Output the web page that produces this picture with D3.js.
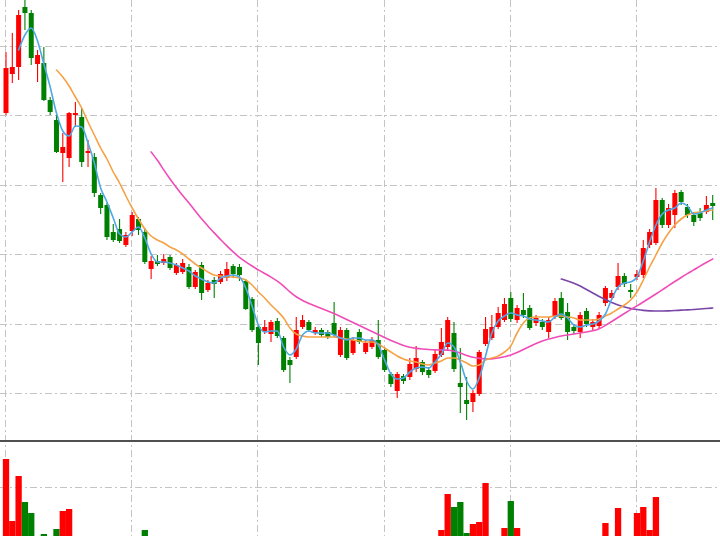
<!DOCTYPE html>
<html><head><meta charset="utf-8">
<script src="https://cdn.jsdelivr.net/npm/d3@7/dist/d3.min.js"></script>
<style>html,body{margin:0;padding:0;background:#fff;}svg{display:block;}</style>
</head><body>
<svg id="chart" width="720" height="536"></svg>
<script>
// ---- data ----
const opens = [17.74,18.52,18.66,19.86,19.74,18.72,18.74,18.00,17.60,16.94,
16.84,17.70,17.66,16.94,16.86,16.10,15.90,15.36,15.42,15.10,
15.38,15.62,15.36,14.62,14.78,14.74,14.86,14.54,14.56,14.66,
14.26,14.70,14.20,14.40,14.36,14.44,14.68,14.66,14.38,14.02,
13.46,13.38,13.32,13.58,13.24,12.80,12.86,13.46,13.56,13.34,
13.40,13.36,13.54,12.90,13.40,12.94,13.36,12.96,13.06,13.20,
13.00,12.52,12.18,12.48,12.46,12.62,12.76,12.60,12.58,12.90,
13.06,13.34,12.34,12.00,11.96,12.12,13.12,13.24,13.46,13.60,
14.04,13.60,13.80,13.84,13.54,13.56,13.36,13.66,14.04,13.76,
13.46,13.36,13.78,13.46,13.48,13.94,14.04,14.26,14.48,14.20,
14.46,14.50,15.10,15.14,16.00,15.50,15.70,16.16,15.86,15.70,
15.74,15.76,15.94];
const closes = [18.64,18.66,19.70,19.74,18.84,18.90,18.00,17.76,16.96,17.06,
17.74,17.74,16.76,16.98,16.14,15.84,15.26,15.20,15.18,15.30,
15.70,15.40,14.76,14.78,14.72,14.82,14.64,14.70,14.74,14.26,
14.56,14.14,14.34,14.32,14.52,14.62,14.52,14.50,13.82,13.40,
13.14,13.46,13.56,13.28,12.60,12.70,13.40,13.60,13.40,13.40,
13.30,13.26,13.30,13.40,12.84,13.20,13.16,13.14,13.20,12.86,
12.60,12.32,12.52,12.38,12.72,12.84,12.56,12.50,12.92,13.16,
13.60,12.62,12.26,11.92,12.14,12.96,13.42,13.46,13.74,13.92,
13.62,13.84,13.70,13.44,13.64,13.46,13.60,13.98,13.64,13.36,
13.38,13.70,13.52,13.56,13.70,14.24,14.14,14.48,14.32,14.16,
14.52,15.04,15.36,16.00,15.50,15.84,16.14,15.96,15.70,15.56,
15.64,15.90,15.88];
const highs = [18.96,19.34,19.80,20.08,19.80,19.00,19.06,18.06,17.70,17.34,
17.76,17.96,17.84,17.20,16.94,16.14,15.94,15.52,15.62,15.36,
15.76,15.66,15.44,14.88,14.90,14.92,14.90,14.74,14.82,14.72,
14.60,14.76,14.40,14.46,14.58,14.76,14.72,14.72,14.42,14.06,
13.50,13.60,13.60,13.64,13.28,12.86,13.66,13.70,13.60,13.46,
13.44,13.40,13.96,13.46,13.44,13.26,13.42,13.20,13.26,13.60,
13.06,12.56,12.56,12.52,12.84,13.08,12.80,12.66,13.00,13.44,
13.66,13.56,13.04,12.46,12.20,13.00,13.66,13.70,13.86,14.04,
14.16,13.90,14.14,13.90,13.70,13.62,13.66,14.04,14.16,13.94,
13.52,13.76,13.84,13.62,13.76,14.28,14.20,14.74,14.54,14.32,
14.60,15.20,15.42,16.24,16.04,15.92,16.20,16.20,15.92,15.76,
15.84,16.08,16.10];
const lows = [17.70,18.34,18.40,19.40,18.70,18.36,17.98,17.70,16.94,16.36,
16.66,17.46,16.66,16.66,16.06,15.72,15.20,15.16,15.14,15.06,
15.28,15.30,14.72,14.42,14.68,14.70,14.60,14.50,14.52,14.22,
14.22,14.00,14.16,14.04,14.32,14.38,14.44,14.38,13.80,13.36,
12.70,13.32,13.16,13.24,12.56,12.34,12.82,13.42,13.36,13.30,
13.26,13.22,13.26,12.86,12.80,12.90,13.12,12.92,13.02,12.82,
12.56,12.26,12.04,12.32,12.40,12.56,12.50,12.44,12.54,12.86,
13.00,12.56,11.74,11.60,11.76,12.08,13.08,13.20,13.42,13.56,
13.56,13.54,13.64,13.40,13.48,13.40,13.24,13.62,13.60,13.20,
13.32,13.24,13.46,13.40,13.42,13.88,14.00,14.20,14.26,14.04,
14.40,14.44,15.04,15.10,15.44,15.44,15.44,15.90,15.64,15.48,
15.58,15.72,15.60];
const volumes = [356000,232000,322000,270000,248000,150000,206000,170000,216000,252000,
256000,120000,180000,110000,190000,150000,170000,110000,120000,100000,
140000,120000,214000,130000,80000,70000,90000,80000,90000,120000,
100000,130000,80000,90000,90000,110000,80000,80000,150000,170000,
160000,90000,110000,100000,180000,120000,160000,100000,80000,70000,
70000,60000,110000,120000,130000,100000,90000,80000,70000,120000,
110000,120000,140000,90000,120000,140000,100000,90000,170000,214000,
286000,260000,270000,208000,226000,230000,308000,190000,180000,218000,
272000,218000,150000,160000,100000,90000,120000,160000,170000,140000,
90000,130000,120000,80000,110000,228000,160000,258000,190000,120000,
248000,260000,214000,280000,190000,170000,180000,150000,120000,110000,
90000,130000,100000];
const ma5 = [null,null,19.00,19.30,19.44,19.18,18.72,18.26,17.74,17.38,
17.28,17.48,17.46,17.14,16.74,16.24,15.96,15.64,15.32,15.26,
15.36,15.46,15.24,14.92,14.76,14.76,14.74,14.70,14.64,14.58,
14.48,14.42,14.36,14.34,14.44,14.48,14.50,14.46,14.24,13.88,
13.50,13.36,13.38,13.38,13.06,12.90,13.02,13.30,13.38,13.34,
13.34,13.34,13.30,13.24,13.20,13.24,13.24,13.20,13.20,13.10,
12.80,12.52,12.42,12.44,12.56,12.64,12.66,12.64,12.76,12.92,
13.14,13.06,12.76,12.38,12.22,12.44,12.88,13.34,13.58,13.68,
13.74,13.70,13.68,13.62,13.60,13.58,13.56,13.66,13.72,13.64,
13.50,13.46,13.50,13.52,13.58,13.72,14.02,14.26,14.34,14.36,
14.46,14.78,15.16,15.50,15.72,15.80,15.84,15.94,15.88,15.72,
15.74,15.80,15.84];
const ma10 = [null,null,null,null,null,null,null,null,18.60,18.46,
18.28,18.06,17.84,17.56,17.30,17.04,16.82,16.56,16.34,16.08,
15.84,15.62,15.42,15.28,15.20,15.14,15.06,15.00,14.92,14.82,
14.72,14.64,14.56,14.50,14.48,14.46,14.46,14.44,14.40,14.30,
14.16,14.04,13.90,13.78,13.64,13.44,13.32,13.28,13.26,13.26,
13.26,13.26,13.26,13.24,13.22,13.20,13.18,13.16,13.16,13.12,
13.04,12.96,12.88,12.82,12.78,12.76,12.72,12.70,12.74,12.78,
12.84,12.84,12.80,12.74,12.68,12.70,12.80,12.84,12.88,12.96,
13.08,13.34,13.54,13.64,13.66,13.66,13.66,13.68,13.68,13.66,
13.64,13.60,13.60,13.60,13.62,13.68,13.74,13.82,13.90,14.00,
14.16,14.40,14.66,14.90,15.14,15.34,15.50,15.62,15.70,15.74,
15.76,15.78,15.80];
const ma20 = Array(23).fill(null).concat([16.96,16.80,16.60,16.42,16.25,16.09,15.94,
15.78,15.62,15.48,15.34,15.21,15.08,14.96,14.85,14.76,14.68,
14.60,14.53,14.46,14.38,14.28,14.16,14.06,13.99,13.93,13.88,
13.83,13.78,13.73,13.67,13.61,13.55,13.49,13.43,13.37,13.31,
13.25,13.19,13.14,13.09,13.05,13.03,13.02,13.01,13.00,13.00,
13.00,12.98,12.94,12.89,12.85,12.83,12.82,12.82,12.84,12.86,
12.90,12.95,13.01,13.07,13.13,13.18,13.22,13.25,13.28,13.30,
13.32,13.34,13.36,13.38,13.42,13.49,13.57,13.65,13.73,13.81,
13.88,13.96,14.04,14.12,14.20,14.29,14.37,14.45,14.53,14.60,
14.68,14.75,14.82]);
const ma60 = Array(88).fill(null).concat([14.42,14.38,14.34,14.28,14.21,14.14,14.07,14.01,
13.95,13.90,13.86,13.83,13.81,13.79,13.78,13.78,13.78,13.78,13.79,13.80,
13.80,13.81,13.82,13.83,13.84]);
const priceGrid = [19.08,17.692,16.304,14.916,13.528,12.14];
const volumeGrid = [300000];
const timeGrid = [0,20,40,60,80,100];

// ---- drawing ----
const svg = d3.select('#chart');
const n = closes.length;
const x = d3.scaleLinear().domain([0, n-1]).range([6, 712.7]);
const yP = d3.scaleLinear().domain([11.18, 20]).range([441, 0]);
const yV = d3.scaleLinear().domain([0, 400000]).range([637, 437]);
const UP = '#ff0000', DOWN = '#008000';
const gridStyle = g => g.attr('stroke','#c4c4c4').attr('stroke-width',1).attr('stroke-dasharray','7,3,2,3');

const defs = svg.append('defs');
defs.append('clipPath').attr('id','cp').append('rect').attr('x',0).attr('y',0).attr('width',720).attr('height',440);
defs.append('clipPath').attr('id','cv').append('rect').attr('x',0).attr('y',442).attr('width',720).attr('height',100);

const grid = svg.append('g');
grid.selectAll('.hg').data(priceGrid).enter().append('line')
  .attr('x1',0).attr('x2',720).attr('y1',d=>Math.round(yP(d))+0.5).attr('y2',d=>Math.round(yP(d))+0.5).call(gridStyle);
grid.selectAll('.vg').data(volumeGrid).enter().append('line')
  .attr('x1',0).attr('x2',720).attr('y1',d=>Math.round(yV(d))+0.5).attr('y2',d=>Math.round(yV(d))+0.5).call(gridStyle);
grid.selectAll('.tg').data(timeGrid).enter().append('line')
  .attr('y1',0).attr('y2',536).attr('x1',d=>Math.round(x(d))-0.5).attr('x2',d=>Math.round(x(d))-0.5).call(gridStyle);

// volume
const vol = svg.append('g').attr('clip-path','url(#cv)');
const bw = 6.3;
vol.selectAll('rect').data(d3.range(n)).enter().append('rect')
  .attr('x', i => x(i) - bw/2).attr('width', bw)
  .attr('y', i => yV(volumes[i])).attr('height', i => yV(0) - yV(volumes[i]))
  .attr('fill', i => closes[i] >= opens[i] ? UP : DOWN);

// separator
svg.append('line').attr('x1',0).attr('x2',720).attr('y1',441).attr('y2',441).attr('stroke','#505050').attr('stroke-width',2);

// candles
const price = svg.append('g').attr('clip-path','url(#cp)');
const cw = 5;
const c = price.selectAll('g.c').data(d3.range(n)).enter().append('g');
c.append('line')
  .attr('x1', i => x(i)).attr('x2', i => x(i))
  .attr('y1', i => yP(highs[i])).attr('y2', i => yP(lows[i]))
  .attr('stroke', i => closes[i] >= opens[i] ? UP : DOWN).attr('stroke-width',1.1);
c.append('rect')
  .attr('x', i => x(i) - cw/2).attr('width', cw)
  .attr('y', i => yP(Math.max(opens[i], closes[i])))
  .attr('height', i => Math.max(1.5, Math.abs(yP(opens[i]) - yP(closes[i]))))
  .attr('fill', i => closes[i] >= opens[i] ? UP : DOWN);

// moving averages
const mkLine = curve => d3.line().defined(d => d[1] != null).x(d => x(d[0])).y(d => yP(d[1])).curve(curve);
const series = [[ma60,'#7a45a6',d3.curveBasis],[ma20,'#f04cb8',d3.curveBasis],[ma10,'#f5a246',d3.curveMonotoneX],[ma5,'#4fa8e6',d3.curveMonotoneX]];
series.forEach(([arr,col,curve]) => {
  price.append('path').datum(arr.map((v,i)=>[i,v]))
    .attr('d', mkLine(curve)).attr('fill','none').attr('stroke',col).attr('stroke-width',1.6)
    .attr('stroke-linejoin','round').attr('stroke-linecap','round');
});
</script>
</body></html>
